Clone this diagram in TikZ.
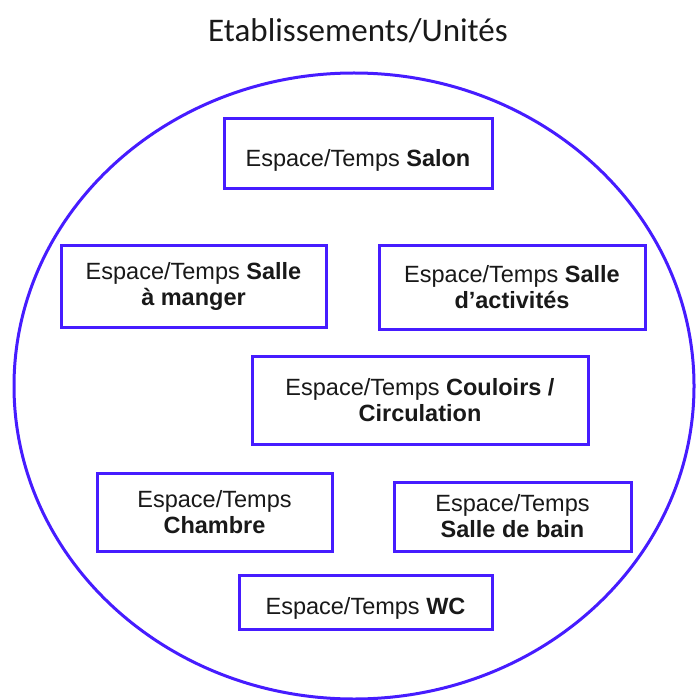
\documentclass[tikz,border=0pt]{standalone}
\usepackage{fontspec}
\setmainfont{Liberation Sans}
\newfontfamily\titlefont{Carlito}
\usepackage{tikz}
\usepackage{xcolor}
\definecolor{zoneblue}{RGB}{70,28,255}

\begin{document}
\begin{tikzpicture}[x=1pt, y=-1pt,
    zone/.style={draw=zoneblue, line width=3pt, fill=white, align=center,
      inner sep=0pt, text=black!90, font=\fontsize{23.5}{26}\selectfont,
      execute at begin node={\rule{0pt}{29pt}}}]
  \useasboundingbox (0,0) rectangle (695,700);
  \node[font=\titlefont\fontsize{33}{38}\selectfont, text=black!90] (title) at (358,31) {Etablissements/Unités};
  \draw[zoneblue, line width=3pt] (354,386) ellipse [x radius=340, y radius=313];
  \node[zone, minimum width=268pt, minimum height=70pt] (salon) at (358,154) {Espace/Temps \textbf{Salon}};
  \node[zone, minimum width=265pt, minimum height=81pt] (manger) at (193.5,286.5) {Espace/Temps \textbf{Salle}\\\textbf{à manger}};
  \node[zone, minimum width=266pt, minimum height=83pt] (activites) at (512,287.5) {Espace/Temps \textbf{Salle}\\\textbf{d’activités}};
  \node[zone, minimum width=336pt, minimum height=88pt] (couloirs) at (420,400) {Espace/Temps \textbf{Couloirs /}\\\textbf{Circulation}};
  \node[zone, minimum width=235pt, minimum height=78pt] (chambre) at (214.5,512) {Espace/Temps\\\textbf{Chambre}};
  \node[zone, minimum width=237pt, minimum height=69pt] (bain) at (512.5,516.5) {Espace/Temps\\\textbf{Salle de bain}};
  \node[zone, minimum width=253pt, minimum height=54pt] (wc) at (365.5,602) {Espace/Temps \textbf{WC}};
\end{tikzpicture}
\end{document}
